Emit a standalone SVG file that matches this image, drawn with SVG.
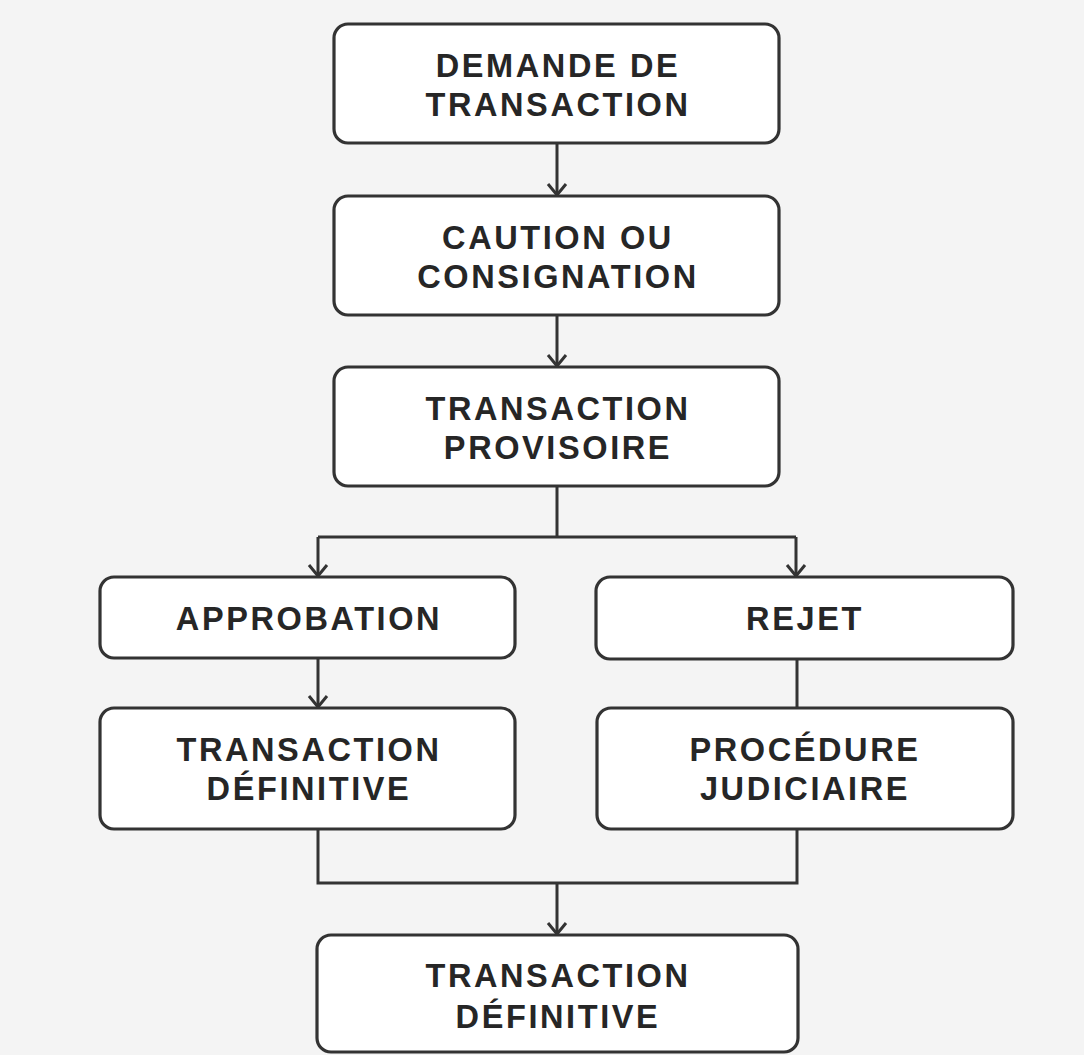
<svg xmlns="http://www.w3.org/2000/svg" width="1084" height="1055" viewBox="0 0 1084 1055">
<style>
.box{fill:#ffffff;stroke:#333333;stroke-width:3.2}
.t{font-family:"Liberation Sans",Arial,sans-serif;font-weight:bold;font-size:32.5px;fill:#262626;text-anchor:middle;letter-spacing:2.6px}
.c{fill:none;stroke:#333333;stroke-width:3}
</style>
<defs>
<marker id="ah" viewBox="-2 -2 15 22" refX="11" refY="9" markerWidth="15" markerHeight="22" markerUnits="userSpaceOnUse" orient="auto">
<path d="M0,0 L11,9 L0,18" fill="none" stroke="#333333" stroke-width="3"/>
</marker>
</defs>
<rect x="0" y="0" width="1084" height="1055" fill="#f4f4f4"/>
<g id="connectors">
<path class="c" d="M557,143 V195" marker-end="url(#ah)"/>
<path class="c" d="M557,315 V366" marker-end="url(#ah)"/>
<path class="c" d="M557,486 V537 M318,537 H796"/>
<path class="c" d="M318,537 V576" marker-end="url(#ah)"/>
<path class="c" d="M796,537 V576" marker-end="url(#ah)"/>
<path class="c" d="M318,658 V707" marker-end="url(#ah)"/>
<path class="c" d="M797,659 V708"/>
<path class="c" d="M318,829 V883 H797 V829"/>
<path class="c" d="M557,883 V934" marker-end="url(#ah)"/>
</g>
<g id="n1"><rect class="box" x="334" y="24" width="445" height="119" rx="14"/>
<text class="t" x="558" y="77">DEMANDE DE</text><text class="t" x="558" y="116">TRANSACTION</text></g>
<g id="n2"><rect class="box" x="334" y="196" width="445" height="119" rx="14"/>
<text class="t" x="558" y="249">CAUTION OU</text><text class="t" x="558" y="288">CONSIGNATION</text></g>
<g id="n3"><rect class="box" x="334" y="367" width="445" height="119" rx="14"/>
<text class="t" x="558" y="420">TRANSACTION</text><text class="t" x="558" y="459">PROVISOIRE</text></g>
<g id="n4"><rect class="box" x="100" y="577" width="415" height="81" rx="14"/>
<text class="t" x="309" y="630">APPROBATION</text></g>
<g id="n5"><rect class="box" x="596" y="577" width="417" height="82" rx="14"/>
<text class="t" x="805" y="630">REJET</text></g>
<g id="n6"><rect class="box" x="100" y="708" width="415" height="121" rx="14"/>
<text class="t" x="309" y="761">TRANSACTION</text><text class="t" x="309" y="800">DÉFINITIVE</text></g>
<g id="n7"><rect class="box" x="597" y="708" width="416" height="121" rx="14"/>
<text class="t" x="805" y="761">PROCÉDURE</text><text class="t" x="805" y="800">JUDICIAIRE</text></g>
<g id="n8"><rect class="box" x="317" y="935" width="481" height="117" rx="14"/>
<text class="t" x="558" y="987">TRANSACTION</text><text class="t" x="558" y="1028">DÉFINITIVE</text></g>
</svg>
